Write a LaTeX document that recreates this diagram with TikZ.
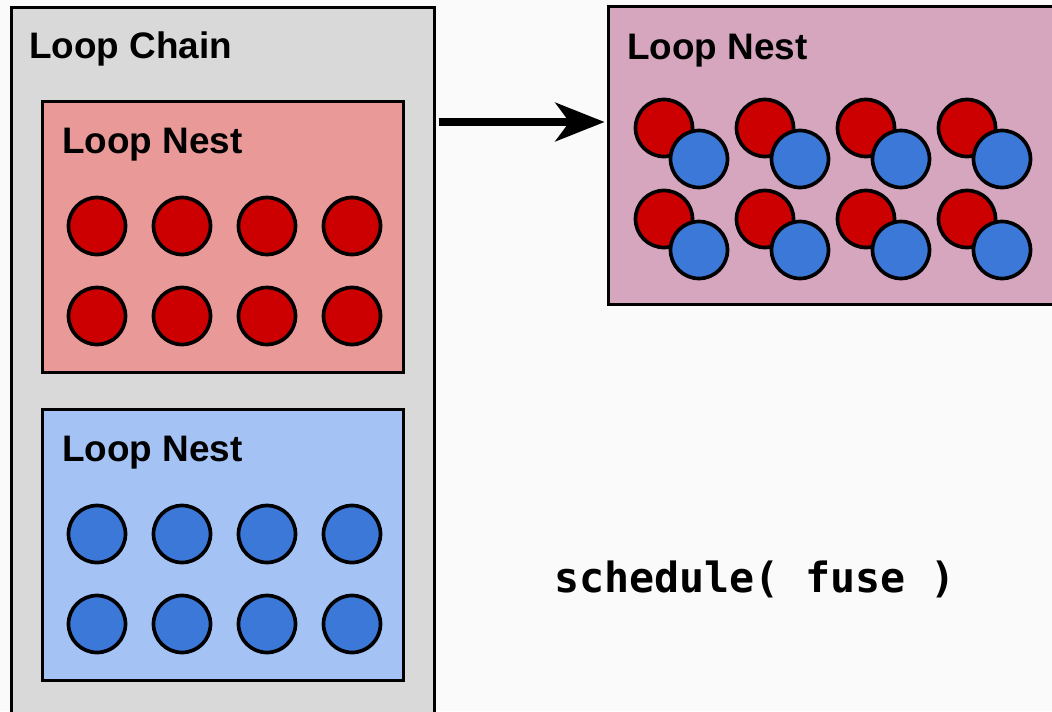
\documentclass[tikz,border=0pt]{standalone}
\usepackage{fontspec}
\setmainfont{Liberation Sans}
\newfontfamily\codefont{DejaVu Sans Mono}
\usetikzlibrary{arrows.meta, positioning}

\definecolor{chaingray}{HTML}{D9D9D9}
\definecolor{nestred}{HTML}{EA9999}
\definecolor{nestblue}{HTML}{A4C2F4}
\definecolor{nestpink}{HTML}{D5A6BD}
\definecolor{iterred}{HTML}{CC0000}
\definecolor{iterblue}{HTML}{3C78D8}
\definecolor{canvas}{HTML}{FAFAFA}

\begin{document}
\begin{tikzpicture}[
    x=0.02cm, y=-0.02cm,
    box/.style={draw, rectangle, line width=1.8pt, inner sep=0pt,
                anchor=north west},
    title/.style={font=\bfseries\fontsize{21}{25}\selectfont,
                  anchor=base west, inner sep=0pt},
    iter/.style={draw, circle, line width=2.1pt, minimum size=1.14cm,
                 inner sep=0pt},
    flow/.style={-{Stealth[length=28pt, width=22pt, inset=8pt]},
                 line width=4pt, shorten <=1.4pt, shorten >=1.4pt}
  ]
  \useasboundingbox (0,0) rectangle (1052,711);
  \clip (0,0) rectangle (1052,711);
  \fill[canvas] (0,0) rectangle (1052,711);

  % the chain of two nests
  \node[box, fill=chaingray, minimum width=8.46cm, minimum height=15cm] (chain) at (10,6) {};
  \node[title] (chainlabel) at ([shift={(19,52)}]chain.north west) {Loop Chain};

  \node[box, fill=nestred, minimum width=7.22cm, minimum height=5.42cm] (rednest) at (41,100) {};
  \node[title] (redlabel) at ([shift={(21,53)}]rednest.north west) {Loop Nest};

  \node[box, fill=nestblue, minimum width=7.22cm, minimum height=5.42cm] (bluenest) at (41,408) {};
  \node[title] (bluelabel) at ([shift={(21,53)}]bluenest.north west) {Loop Nest};

  \foreach \col in {0,...,3}
    \foreach \row in {0,1} {
      \node[iter, fill=iterred] (r-\col-\row) at ({97+85*\col},{226+90*\row}) {};
      \node[iter, fill=iterblue] (b-\col-\row) at ({97+85*\col},{534+90*\row}) {};
    }

  % the fused nest
  \node[box, fill=nestpink, minimum width=10cm, minimum height=5.96cm] (fused) at (607,5) {};
  \node[title] (fusedlabel) at ([shift={(20,54)}]fused.north west) {Loop Nest};

  \foreach \col in {0,...,3}
    \foreach \row in {0,1} {
      \node[iter, fill=iterred] (fr-\col-\row) at ({664+101*\col},{128+91*\row}) {};
      \node[iter, fill=iterblue] (fb-\col-\row) at ({699+101*\col},{159+91*\row}) {};
    }

  \coordinate (flowlevel) at (0,122);
  \draw[flow] (chain.east |- flowlevel) -- (fused.west |- flowlevel);

  \node[font=\codefont\bfseries\fontsize{23.7}{28}\selectfont, anchor=base,
        inner sep=0pt] (fusecall) at (755,592) {schedule( fuse )};
\end{tikzpicture}
\end{document}
